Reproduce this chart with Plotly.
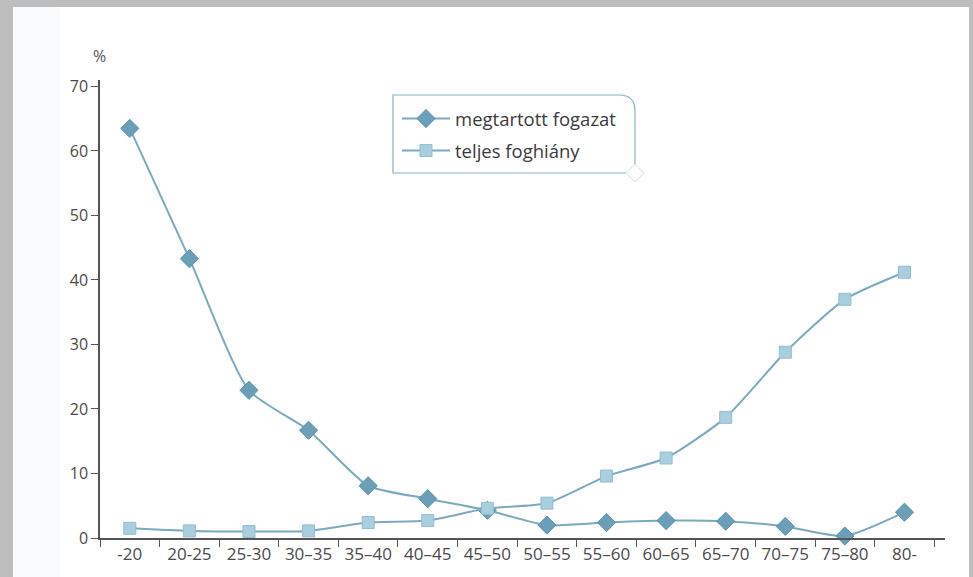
import plotly.graph_objects as go

categories = ["-20", "20-25", "25-30", "30\u201335", "35\u201340", "40\u201345", "45\u201350",
              "50\u201355", "55\u201360", "60\u201365", "65\u201370", "70\u201375", "75\u201380", "80-"]
megtartott = [63.5, 43.3, 22.9, 16.7, 8.1, 6.1, 4.3, 2.0, 2.4, 2.7, 2.6, 1.8, 0.3, 4.0]
teljes = [1.5, 1.1, 1.0, 1.1, 2.4, 2.7, 4.6, 5.4, 9.6, 12.4, 18.7, 28.8, 37.0, 41.2]
y_ticks = [0, 10, 20, 30, 40, 50, 60, 70]

W, H = 973, 577
ML, MR, MT, MB = 100, 28, 80, 39
line_col = "#7aaabd"
font = "Open Sans"


def px(x):
    return (x - ML) / (W - ML - MR)


def py(y):
    return (H - MB - y) / (H - MT - MB)


fig = go.Figure()
fig.add_trace(go.Scatter(
    x=categories, y=megtartott, name="megtartott fogazat", mode="lines+markers",
    legendgroup="a",
    line=dict(color=line_col, width=2, shape="spline", smoothing=0.6),
    marker=dict(symbol="diamond", size=14, color="#6b9fb8", line=dict(color="#5f93ac", width=1)),
    cliponaxis=False,
))
fig.add_trace(go.Scatter(
    x=categories, y=teljes, name="teljes foghiány", mode="lines+markers",
    legendgroup="b",
    line=dict(color=line_col, width=2, shape="spline", smoothing=0.6),
    marker=dict(symbol="square", size=12, color="#a9cfdf", line=dict(color="#93bdd0", width=1)),
    cliponaxis=False,
))

# legend frame with rounded top-right corner
lx0, lx1, ly0, ly1, r = 393, 635, 95, 173, 16
frame = (f"M {px(lx0)},{py(ly0)} L {px(lx1 - r)},{py(ly0)} "
         f"Q {px(lx1)},{py(ly0)} {px(lx1)},{py(ly0 + r)} "
         f"L {px(lx1)},{py(ly1)} L {px(lx0)},{py(ly1)} Z")
d = 9
diamond = (f"M {px(lx1)},{py(ly1 - d)} L {px(lx1 + d)},{py(ly1)} "
           f"L {px(lx1)},{py(ly1 + d)} L {px(lx1 - d)},{py(ly1)} Z")

shapes = [
    # gray photo frame
    dict(type="rect", xref="paper", yref="paper", layer="below",
         x0=px(0), x1=px(W), y0=py(0), y1=py(H), fillcolor="#bdbdbd", line=dict(width=0)),
    dict(type="rect", xref="paper", yref="paper", layer="below",
         x0=px(13), x1=px(969), y0=py(7), y1=py(H), fillcolor="#ffffff", line=dict(width=0)),
    dict(type="rect", xref="paper", yref="paper", layer="below",
         x0=px(13), x1=px(60), y0=py(7), y1=py(H), fillcolor="#f9fbfc", line=dict(width=0)),
    dict(type="path", xref="paper", yref="paper", path=frame,
         fillcolor="white", line=dict(color="#86b3c4", width=1.2), layer="below"),
    dict(type="path", xref="paper", yref="paper", path=diamond,
         fillcolor="white", line=dict(color="#dddddd", width=1)),
]

fig.update_layout(
    width=W, height=H,
    margin=dict(l=ML, r=MR, t=MT, b=MB),
    paper_bgcolor="white", plot_bgcolor="rgba(0,0,0,0)",
    font=dict(family=font, size=16, color="#444444"),
    showlegend=True,
    legend=dict(
        x=px(397), y=py(100), xanchor="left", yanchor="top",
        borderwidth=0, bgcolor="rgba(0,0,0,0)",
        font=dict(family=font, size=18.5, color="#3a3a3a"),
        tracegroupgap=5, itemwidth=48,
    ),
    xaxis=dict(
        type="category", range=[-0.5, 13.68],
        showline=True, linecolor="#555555", linewidth=1.5,
        ticks="outside", tickson="boundaries", ticklen=7, tickcolor="#555555",
        showgrid=False, zeroline=False,
        tickfont=dict(family=font, size=17, color="#4a4a4a"),
    ),
    yaxis=dict(
        range=[0, 71], tickvals=y_ticks,
        showline=True, linecolor="#555555", linewidth=1.5,
        ticks="outside", ticklen=7, tickcolor="#555555",
        showgrid=False, zeroline=False,
        tickfont=dict(family=font, size=16, color="#4a4a4a"),
    ),
    shapes=shapes,
    annotations=[dict(
        text="%", xref="paper", yref="paper", x=px(91), y=py(69),
        xanchor="left", yanchor="bottom", showarrow=False,
        font=dict(family=font, size=16, color="#555555"),
    )],
)

fig.write_html("out.html", config={"displayModeBar": False},
               post_script="document.body.style.margin='0';document.body.style.overflow='hidden';")
